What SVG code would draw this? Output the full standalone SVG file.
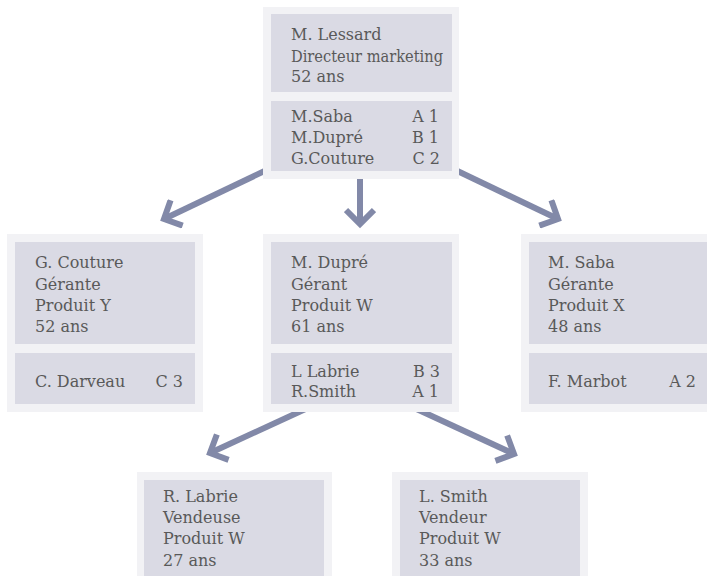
<svg xmlns="http://www.w3.org/2000/svg" width="707" height="576" viewBox="0 0 707 576">
<style>
.outer{fill:#f2f2f5}
.inner{fill:#dadae4}
.t{font-family:"DejaVu Serif","Liberation Serif",serif;font-size:16px;fill:#595959}
.r{text-anchor:end}
.conn{stroke:#8289a8;stroke-width:6;fill:none;marker-end:url(#chev)}
</style>
<defs>
<marker id="chev" markerUnits="userSpaceOnUse" viewBox="-20 -16 30 32" markerWidth="30" markerHeight="32" refX="0" refY="0" orient="auto">
<path d="M-14,-14 L0,0 L-14,14" fill="none" stroke="#8289a8" stroke-width="6" stroke-linejoin="miter"/>
</marker>
</defs>
<rect width="707" height="576" fill="#ffffff"/>
<g id="connectors">
<path class="conn" d="M275,166 L164,219"/>
<path class="conn" d="M360,175 L360,224"/>
<path class="conn" d="M447,166 L558,219"/>
<path class="conn" d="M312,406 L210,453"/>
<path class="conn" d="M410,406 L514,454"/>
</g>
<g id="node-lessard">
<rect class="outer" x="263" y="7" width="196" height="172"/>
<rect class="inner" x="271" y="14" width="181" height="78"/>
<rect class="inner" x="271" y="101" width="181" height="70"/>
<text class="t" x="291" y="40">M. Lessard</text>
<text class="t" x="291" y="62" textLength="152" lengthAdjust="spacingAndGlyphs">Directeur marketing</text>
<text class="t" x="291" y="82">52 ans</text>
<text class="t" x="291" y="122">M.Saba</text>
<text class="t" x="291" y="143">M.Dupré</text>
<text class="t" x="291" y="164">G.Couture</text>
<text class="t r" x="439" y="122">A 1</text>
<text class="t r" x="439" y="143">B 1</text>
<text class="t r" x="440" y="164">C 2</text>
</g>
<g id="node-couture">
<rect class="outer" x="7" y="234" width="196" height="178"/>
<rect class="inner" x="15" y="242" width="180" height="102"/>
<rect class="inner" x="15" y="353" width="180" height="51"/>
<text class="t" x="35" y="268">G. Couture</text>
<text class="t" x="35" y="290">Gérante</text>
<text class="t" x="35" y="311">Produit Y</text>
<text class="t" x="35" y="332">52 ans</text>
<text class="t" x="35" y="387">C. Darveau</text>
<text class="t r" x="183" y="387">C 3</text>
</g>
<g id="node-dupre">
<rect class="outer" x="263" y="234" width="196" height="178"/>
<rect class="inner" x="271" y="242" width="181" height="102"/>
<rect class="inner" x="271" y="353" width="181" height="51"/>
<text class="t" x="291" y="268">M. Dupré</text>
<text class="t" x="291" y="290">Gérant</text>
<text class="t" x="291" y="311">Produit W</text>
<text class="t" x="291" y="332">61 ans</text>
<text class="t" x="291" y="377">L Labrie</text>
<text class="t" x="291" y="397">R.Smith</text>
<text class="t r" x="440" y="377">B 3</text>
<text class="t r" x="439" y="397">A 1</text>
</g>
<g id="node-saba">
<rect class="outer" x="521" y="234" width="196" height="178"/>
<rect class="inner" x="529" y="242" width="180" height="102"/>
<rect class="inner" x="529" y="353" width="180" height="51"/>
<text class="t" x="548" y="268">M. Saba</text>
<text class="t" x="548" y="290">Gérante</text>
<text class="t" x="548" y="311">Produit X</text>
<text class="t" x="548" y="332">48 ans</text>
<text class="t" x="548" y="387">F. Marbot</text>
<text class="t r" x="696" y="387">A 2</text>
</g>
<g id="node-labrie">
<rect class="outer" x="137" y="472" width="195" height="110"/>
<rect class="inner" x="144" y="480" width="180" height="100"/>
<text class="t" x="163" y="502">R. Labrie</text>
<text class="t" x="163" y="523">Vendeuse</text>
<text class="t" x="163" y="544">Produit W</text>
<text class="t" x="163" y="566">27 ans</text>
</g>
<g id="node-smith">
<rect class="outer" x="392" y="472" width="196" height="110"/>
<rect class="inner" x="400" y="480" width="180" height="100"/>
<text class="t" x="419" y="502">L. Smith</text>
<text class="t" x="419" y="523">Vendeur</text>
<text class="t" x="419" y="544">Produit W</text>
<text class="t" x="419" y="566">33 ans</text>
</g>
</svg>
